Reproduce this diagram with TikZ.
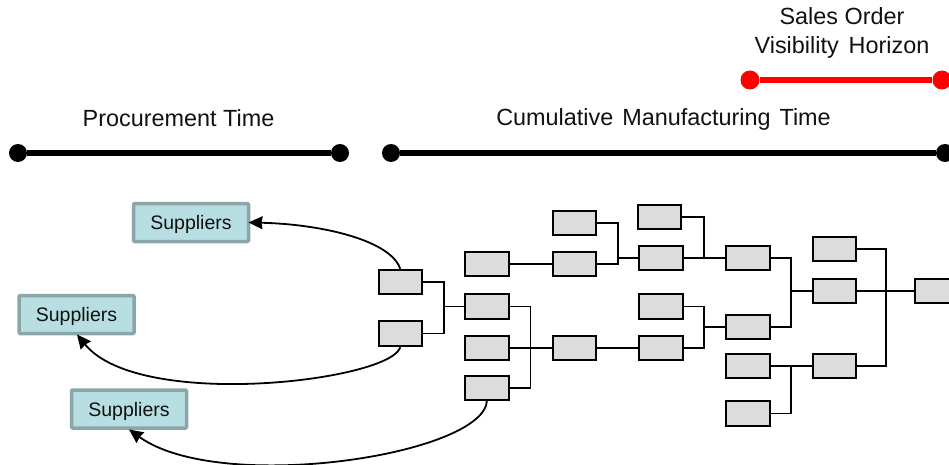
\documentclass[tikz,border=0pt]{standalone}
\usepackage{fontspec}
\setmainfont{Liberation Sans}
\usetikzlibrary{arrows.meta}
\definecolor{supfill}{HTML}{B7DFE2}
\definecolor{supline}{HTML}{8AA6A9}
\definecolor{partfill}{HTML}{DCDCDC}
\definecolor{inkc}{HTML}{111111}
\tikzset{
  x=1pt,y=-1pt,
  part/.style={draw=black,fill=partfill,line width=1.9pt,minimum width=43.5pt,minimum height=24.5pt,inner sep=0pt,outer sep=0pt},
  supplier/.style={draw=supline,fill=supfill,line width=3.5pt,rounded corners=1pt,minimum width=115pt,minimum height=38pt,inner sep=0pt,outer sep=0pt,text=inkc,font=\fontsize{19.5}{23}\selectfont,text height=14pt,text depth=0pt},
  title/.style={inner sep=0pt,text=inkc,font=\fontsize{23.4}{28}\selectfont,align=center,text height=17pt,text depth=1pt},
  blackdot/.style={circle,fill=black,minimum size=18pt,inner sep=0pt},
  reddot/.style={circle,fill=red,minimum size=19pt,inner sep=0pt},
  bar/.style={line width=5.5pt},
  link/.style={draw=black,line width=1.8pt},
  flow/.style={draw=black,line width=1.8pt,-{Stealth[length=14pt,width=13pt,inset=1pt]}}
}
\begin{document}
\begin{tikzpicture}
\path[use as bounding box,clip] (0,0) rectangle (949,465);
% titles
\node[title] (t1) at (842,17) {Sales Order};
\node[title] (t2) at (842,46) {Visibility\hspace{10pt}Horizon};
\node[title] (t3) at (663.5,118) {Cumulative\hspace{9pt}Manufacturing\hspace{9pt}Time};
\node[title] (t4) at (178.5,119) {Procurement Time};
% bars
\node[reddot] (r1) at (750,80) {};
\node[reddot] (r2) at (942,80) {};
\draw[bar,red] (r1) -- (r2);
\node[blackdot] (p1) at (18,153) {};
\node[blackdot] (p2) at (340,153) {};
\draw[bar] (p1) -- (p2);
\node[blackdot] (m1) at (391,153) {};
\node[blackdot] (m2) at (945,153) {};
\draw[bar] (m1) -- (m2);
% suppliers
\node[supplier] (s1) at (191,222.5) {Suppliers};
\node[supplier] (s2) at (76.5,314.5) {Suppliers};
\node[supplier] (s3) at (129,409) {Suppliers};
% parts
\node[part] (a1) at (400.5,282) {};
\node[part] (a2) at (400.5,333.5) {};
\node[part] (b1) at (487,264) {};
\node[part] (b2) at (487,306.5) {};
\node[part] (b3) at (487,348) {};
\node[part] (b4) at (487,388) {};
\node[part] (c1) at (574.5,223) {};
\node[part] (c2) at (574.5,264) {};
\node[part] (c3) at (574.5,348) {};
\node[part] (d0) at (659.5,217) {};
\node[part] (d1) at (661,258) {};
\node[part] (d2) at (661,306.5) {};
\node[part] (d3) at (661,348) {};
\node[part] (e1) at (748,258) {};
\node[part] (e2) at (748,327) {};
\node[part] (e3) at (748,366) {};
\node[part] (e4) at (748,413.5) {};
\node[part] (f1) at (834.5,249) {};
\node[part] (f2) at (834.5,291) {};
\node[part] (f3) at (834.5,366) {};
\node[part] (g1) at (936.5,291) {};
% junctions
\coordinate (ja) at (444,306.5);
\coordinate (jb) at (530.5,348);
\coordinate (jc) at (618,258);
\coordinate (jd) at (704,258);
\coordinate (je) at (704,327);
\coordinate (jf) at (791,291);
\coordinate (jg) at (791,366);
\coordinate (jh) at (886,291);
% tree links
\draw[link] (a1.east) -| (ja);
\draw[link] (a2.east) -| (ja);
\draw[link] (ja) -- (b2.west);
\draw[link] (b1.east) -- (c2.west);
\draw[link] (b2.east) -| (jb);
\draw[link] (b4.east) -| (jb);
\draw[link] (b3.east) -- (c3.west);
\draw[link] (c1.east) -| (jc);
\draw[link] (c2.east) -| (jc);
\draw[link] (jc) -- (d1.west);
\draw[link] (c3.east) -- (d3.west);
\draw[link] (d0.east) -| (jd);
\draw[link] (d1.east) -- (e1.west);
\draw[link] (d2.east) -| (je);
\draw[link] (d3.east) -| (je);
\draw[link] (je) -- (e2.west);
\draw[link] (e1.east) -| (jf);
\draw[link] (e2.east) -| (jf);
\draw[link] (jf) -- (f2.west);
\draw[link] (e3.east) -- (f3.west);
\draw[link] (e4.east) -| (jg);
\draw[link] (f1.east) -| (jh);
\draw[link] (f3.east) -| (jh);
\draw[link] (f2.east) -- (g1.west);
% supplier flows
\coordinate (s2t) at (77,334.5);
\coordinate (s3t) at (129,429.5);
\draw[flow] (a1.north) .. controls (392,240) and (320,224) .. (s1.east);
\draw[flow] (a2.south) .. controls (398,380) and (140,412) .. (s2t);
\draw[flow] (b4.south) .. controls (485,455) and (220,495) .. (s3t);
\end{tikzpicture}
\end{document}
